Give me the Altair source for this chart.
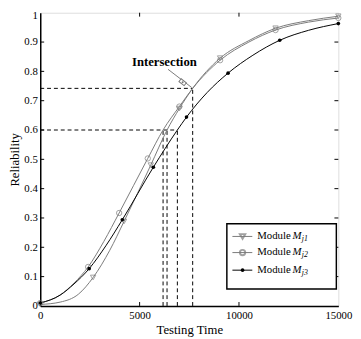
import altair as alt
import pandas as pd

# ---- data ----
t_m1 = [0, 1000, 1920, 2660, 3500, 4215, 5560, 6380, 7000, 7670, 9050, 10500, 11840, 13500, 15000]
r_m1 = [0.005, 0.013, 0.04, 0.097, 0.19, 0.288, 0.48, 0.6, 0.673, 0.742, 0.845, 0.905, 0.947, 0.973, 0.988]
t_m2 = [0, 1000, 1700, 2410, 3200, 3970, 5410, 6180, 7000, 7670, 9050, 10500, 11840, 13500, 15000]
r_m2 = [0.01, 0.037, 0.078, 0.133, 0.22, 0.317, 0.503, 0.6, 0.68, 0.742, 0.838, 0.9, 0.941, 0.968, 0.982]
t_m3 = [0, 1000, 1700, 2460, 3300, 4130, 5690, 6900, 7360, 8400, 9450, 10700, 12050, 13500, 15000]
r_m3 = [0.01, 0.037, 0.075, 0.127, 0.205, 0.294, 0.473, 0.6, 0.644, 0.728, 0.794, 0.855, 0.906, 0.94, 0.963]

mk_t1 = [0, 2660, 4215, 5560, 7000, 9050, 11840, 15000]
mk_r1 = [0.005, 0.097, 0.288, 0.48, 0.673, 0.845, 0.947, 0.988]
mk_t2 = [0, 2410, 3970, 5410, 7000, 9050, 11840, 15000]
mk_r2 = [0.01, 0.133, 0.317, 0.503, 0.68, 0.838, 0.941, 0.982]
mk_t3 = [0, 2460, 4130, 5690, 7360, 9450, 12050, 15000]
mk_r3 = [0.01, 0.127, 0.294, 0.473, 0.644, 0.794, 0.906, 0.963]

modules = ["Mj1", "Mj2", "Mj3"]
subscripts = ["j1", "j2", "j3"]

# dashed guide lines (start t, end t, start r, end r)
dash_t = [0, 0, 6180, 6380, 6900, 7670]
dash_t2 = [7670, 6900, 6180, 6380, 6900, 7670]
dash_r = [0.742, 0.6, 0, 0, 0, 0]
dash_r2 = [0.742, 0.6, 0.6, 0.6, 0.6, 0.742]

x_ticks = [0, 5000, 10000, 15000]
y_ticks = [0, 0.1, 0.2, 0.3, 0.4, 0.5, 0.6, 0.7, 0.8, 0.9, 1.0]

# annotation
annot_text = "Intersection"
annot_t, annot_r = 6246, 0.833
arrow_t, arrow_t2, arrow_r, arrow_r2 = 6430, 7620, 0.807, 0.745
arrow_head_t, arrow_head_r = 7165, 0.763

# legend (in data space)
leg_box = dict(t=9390, t2=14900, r=0.28, r2=0.058)
leg_rows_r = [0.237, 0.182, 0.122]
leg_line_t, leg_line_t2, leg_mark_t, leg_text_t = 9670, 10670, 10180, 10920

FONT = "Liberation Serif"
GRAY = "#7a7a7a"

curves = pd.concat([
    pd.DataFrame({"t": t_m1, "r": r_m1, "module": "Mj1"}),
    pd.DataFrame({"t": t_m2, "r": r_m2, "module": "Mj2"}),
    pd.DataFrame({"t": t_m3, "r": r_m3, "module": "Mj3"}),
])
mk1 = pd.DataFrame({"t": mk_t1, "r": mk_r1})
mk2 = pd.DataFrame({"t": mk_t2, "r": mk_r2})
mk3 = pd.DataFrame({"t": mk_t3, "r": mk_r3})
dashes = pd.DataFrame({"t": dash_t, "t2": dash_t2, "r": dash_r, "r2": dash_r2})

xs = alt.Scale(domain=[0, 15000], nice=False, zero=False)
ys = alt.Scale(domain=[0, 1], nice=False, zero=False)
x_enc = alt.X("t:Q", scale=xs, axis=alt.Axis(
    values=x_ticks, format="d", title="Testing Time", ticks=False, grid=False,
    labelPadding=4, titlePadding=3, labelFont=FONT, labelFontSize=11,
    titleFont=FONT, titleFontSize=13, titleFontWeight="normal", labelColor="black",
    titleColor="black", domainColor="black", domainWidth=1.5, labelFlush=False))
y_enc = alt.Y("r:Q", scale=ys, axis=alt.Axis(
    values=y_ticks, format=".1~f", title="Reliability", ticks=False, grid=False,
    labelPadding=3, titlePadding=2, labelFont=FONT, labelFontSize=11,
    labelOffset={"expr": "datum.value == 1 ? 3 : 0"},
    titleFont=FONT, titleFontSize=13, titleFontWeight="normal", labelColor="black",
    titleColor="black", domainColor="black", domainWidth=1.5, labelFlush=False))

base = alt.Chart(curves)

lines = base.mark_line(interpolate="monotone", strokeWidth=1).encode(
    x=x_enc, y=y_enc,
    color=alt.Color("module:N", scale=alt.Scale(domain=modules, range=[GRAY, GRAY, "black"]), legend=None),
    detail="module:N")

p1 = alt.Chart(mk1).mark_point(shape="triangle-down", filled=False, color=GRAY, size=30, strokeWidth=1).encode(x=x_enc, y=y_enc)
p2 = alt.Chart(mk2).mark_point(shape="circle", filled=False, color=GRAY, size=30, strokeWidth=1).encode(x=x_enc, y=y_enc)
p3 = alt.Chart(mk3).mark_point(shape="circle", filled=True, color="black", size=14, opacity=1).encode(x=x_enc, y=y_enc)

dash_layer = alt.Chart(dashes).mark_rule(strokeDash=[4, 3], color="black", strokeWidth=1).encode(
    x=x_enc, x2="t2:Q", y=y_enc, y2="r2:Q")

# inward ticks
ytk = pd.DataFrame({"r": y_ticks[1:-1]})
xtk = pd.DataFrame({"t": x_ticks[1:-1]})
tick_l = alt.Chart(ytk).mark_rule(color="black", strokeWidth=1).encode(x=alt.value(0), x2=alt.value(4), y=y_enc)
tick_r = alt.Chart(ytk).mark_rule(color="black", strokeWidth=1).encode(x=alt.value(301), x2=alt.value(305), y=y_enc)
tick_b = alt.Chart(xtk).mark_rule(color="black", strokeWidth=1).encode(y=alt.value(296), y2=alt.value(300), x=x_enc)
tick_t = alt.Chart(xtk).mark_rule(color="black", strokeWidth=1).encode(y=alt.value(0), y2=alt.value(4), x=x_enc)

# annotation
ann = pd.DataFrame({"t": [annot_t], "r": [annot_r], "label": [annot_text]})
ann_text = alt.Chart(ann).mark_text(font=FONT, fontSize=13, fontWeight="bold", align="center",
                                    baseline="middle", color="black").encode(x=x_enc, y=y_enc, text="label:N")
arrow = pd.DataFrame({"t": [arrow_t], "t2": [arrow_t2], "r": [arrow_r], "r2": [arrow_r2]})
arrow_line = alt.Chart(arrow).mark_rule(color=GRAY, strokeWidth=1).encode(x=x_enc, x2="t2:Q", y=y_enc, y2="r2:Q")
head = pd.DataFrame({"t": [arrow_head_t], "r": [arrow_head_r]})
arrow_head = alt.Chart(head).mark_point(shape="M -1 -0.55 L 1 -0.55 L 1 0.55 L -1 0.55 Z", angle=38, size=45,
                                        filled=True, fill="white", stroke=GRAY, strokeWidth=1, opacity=1).encode(x=x_enc, y=y_enc)
head_dot = alt.Chart(head).mark_point(shape="circle", filled=True, color=GRAY, size=4, opacity=1).encode(x=x_enc, y=y_enc)

# legend
box = pd.DataFrame({"t": [leg_box["t"]], "t2": [leg_box["t2"]], "r": [leg_box["r"]], "r2": [leg_box["r2"]]})
leg_rect = alt.Chart(box).mark_rect(fill="white", stroke="black", strokeWidth=1.5).encode(
    x=x_enc, x2="t2:Q", y=y_enc, y2="r2:Q")
leg = pd.DataFrame({"t": leg_line_t, "t2": leg_line_t2, "r": leg_rows_r, "module": modules,
                    "tm": leg_mark_t, "tt": leg_text_t, "sub": subscripts})
leg_lines = alt.Chart(leg).mark_rule(strokeWidth=1).encode(
    x=x_enc, x2="t2:Q", y=y_enc,
    color=alt.Color("module:N", scale=alt.Scale(domain=modules, range=[GRAY, GRAY, "black"]), legend=None))
leg_p1 = alt.Chart(leg.iloc[[0]]).mark_point(shape="triangle-down", filled=False, color=GRAY, size=30).encode(
    x=alt.X("tm:Q", scale=xs), y=y_enc)
leg_p2 = alt.Chart(leg.iloc[[1]]).mark_point(shape="circle", filled=False, color=GRAY, size=30).encode(
    x=alt.X("tm:Q", scale=xs), y=y_enc)
leg_p3 = alt.Chart(leg.iloc[[2]]).mark_point(shape="circle", filled=True, color="black", size=14, opacity=1).encode(
    x=alt.X("tm:Q", scale=xs), y=y_enc)
leg_word = alt.Chart(leg).mark_text(font=FONT, fontSize=11, align="left", baseline="middle", color="black").encode(
    x=alt.X("tt:Q", scale=xs), y=y_enc, text=alt.value("Module"))
leg_M = alt.Chart(leg).mark_text(font=FONT, fontSize=11, fontStyle="italic", align="left", baseline="middle",
                                 color="black", dx=36).encode(x=alt.X("tt:Q", scale=xs), y=y_enc, text=alt.value("M"))
leg_sub = alt.Chart(leg).mark_text(font=FONT, fontSize=8, fontStyle="italic", align="left", baseline="middle",
                                   color="black", dx=45.5, dy=3).encode(x=alt.X("tt:Q", scale=xs), y=y_enc, text="sub:N")

chart = alt.layer(
    dash_layer, lines, p1, p2, p3, tick_l, tick_r, tick_b, tick_t,
    arrow_line, arrow_head, head_dot, ann_text,
    leg_rect, leg_lines, leg_p1, leg_p2, leg_p3, leg_word, leg_M, leg_sub
).properties(
    width=305, height=300,
    autosize=alt.AutoSizeParams(type="none"),
    padding={"left": 33, "top": 1, "right": 15, "bottom": 30},
).configure_view(stroke="black", strokeWidth=1.5).configure(background="white")

chart.save("out.html", embed_options={"renderer": "svg", "actions": False})
